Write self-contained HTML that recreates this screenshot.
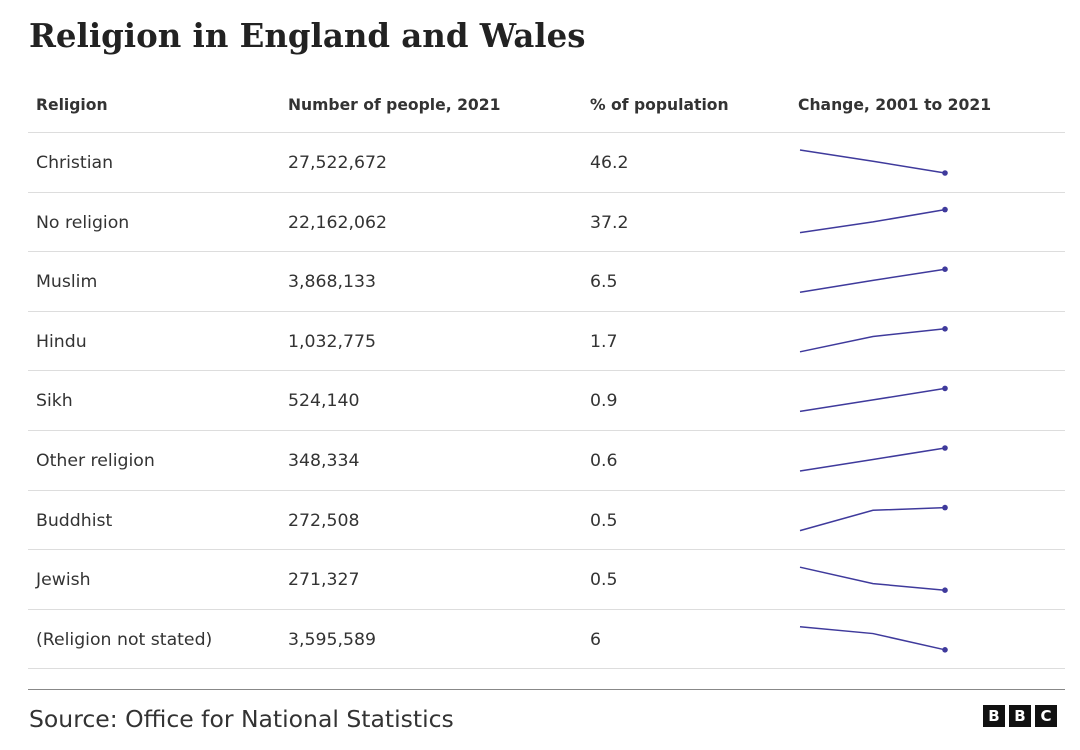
<!DOCTYPE html>
<html><head><meta charset="utf-8">
<style>
body{margin:0;width:1080px;height:750px;background:#fff;font-family:"DejaVu Sans","Liberation Sans",sans-serif;color:#222;position:relative;overflow:hidden}
#title{position:absolute;left:29px;top:17px;font-family:"DejaVu Serif","Liberation Serif",serif;font-weight:bold;font-size:32.4px;color:#222;margin:0}
.hdr{position:absolute;top:96px;font-weight:bold;font-size:15.6px;color:#333}
.cell{position:absolute;font-size:17.3px;color:#333}
.sep{position:absolute;left:28px;width:1037px;height:1px;background:#ddd}
#source{position:absolute;left:29px;top:705px;font-size:23.5px;color:#333}
.bbc{position:absolute;top:705px;width:22px;height:22px;background:#111;color:#fff;font-weight:bold;font-size:15px;text-align:center;line-height:22px}
</style></head><body>
<h1 id="title">Religion in England and Wales</h1>
<div class="hdr" style="left:36px">Religion</div>
<div class="hdr" style="left:288px">Number of people, 2021</div>
<div class="hdr" style="left:590px">% of population</div>
<div class="hdr" style="left:798px">Change, 2001 to 2021</div>
<div id="table"></div>
<svg id="spark" width="1080" height="750" style="position:absolute;left:0;top:0"></svg>
<div class="sep" style="top:689px;background:#888"></div>
<div id="source">Source: Office for National Statistics</div>
<div class="bbc" style="left:983px">B</div>
<div class="bbc" style="left:1009px">B</div>
<div class="bbc" style="left:1035px">C</div>
<script>
const religions=["Christian","No religion","Muslim","Hindu","Sikh","Other religion","Buddhist","Jewish","(Religion not stated)"];
const counts=["27,522,672","22,162,062","3,868,133","1,032,775","524,140","348,334","272,508","271,327","3,595,589"];
const percents=["46.2","37.2","6.5","1.7","0.9","0.6","0.5","0.5","6"];
const pct2001=[71.8,14.8,3.0,1.1,0.6,0.3,0.28,0.52,7.7];
const pct2011=[59.3,25.2,4.8,1.5,0.75,0.45,0.43,0.47,7.2];
const pct2021=[46.2,37.2,6.5,1.7,0.9,0.6,0.45,0.45,6.0];
const tbl=document.getElementById('table');
const svg=document.getElementById('spark');
const NS='http://www.w3.org/2000/svg';
const top0=132,rowH=59.6;
function addSep(y){const s=document.createElement('div');s.className='sep';s.style.top=y+'px';


tbl.appendChild(s);}
addSep(top0);
const xs=[800,873,945];
religions.forEach((r,i)=>{
  const rt=top0+i*rowH;
  [[r,36,'religion-name'],[counts[i],288,'people-count'],[percents[i],590,'population-percent']].forEach(([t,x,n])=>{
    const c=document.createElement('div');c.className='cell';c.textContent=t;c.style.left=x+'px';c.style.top=(rt+21)+'px';
    
    
    tbl.appendChild(c);
  });
  addSep(Math.round(rt+rowH));
  const v=[pct2001[i],pct2011[i],pct2021[i]];
  const mn=Math.min(...v),mx=Math.max(...v);
  const y=d=>rt+41-(mx===mn?0.5:(d-mn)/(mx-mn))*23;
  const pl=document.createElementNS(NS,'polyline');
  pl.setAttribute('points',v.map((d,j)=>xs[j]+','+y(d)).join(' '));
  pl.setAttribute('fill','none');pl.setAttribute('stroke','#3f3a9c');pl.setAttribute('stroke-width','1.5');
  
  
  svg.appendChild(pl);
  const c=document.createElementNS(NS,'circle');
  c.setAttribute('cx',xs[2]);c.setAttribute('cy',y(v[2]));c.setAttribute('r','2.8');c.setAttribute('fill','#3f3a9c');
  
  
  svg.appendChild(c);
});
</script>
</body></html>
